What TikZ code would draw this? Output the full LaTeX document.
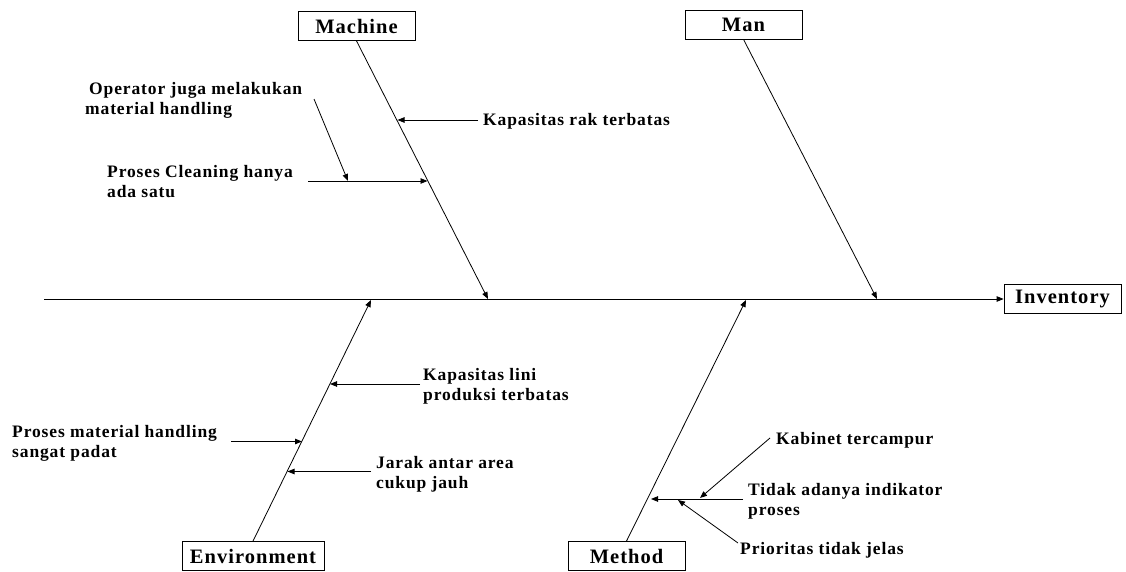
\documentclass[tikz,border=0pt]{standalone}
\usepackage{fontspec}
\setmainfont[LetterSpace=5]{Liberation Serif}
\usetikzlibrary{arrows.meta}

\begin{document}
\begin{tikzpicture}[x=1pt,y=-1pt,
  catbox/.style={draw, line width=0.8pt, minimum width=117pt, minimum height=29pt,
                 inner sep=0pt, font=\fontsize{20.5}{24}\selectfont\bfseries},
  causetext/.style={anchor=north west, inner sep=0pt, align=left,
                    font=\fontsize{17.5}{20}\selectfont\bfseries},
  bone/.style={line width=0.8pt, -{Triangle[length=7pt,width=5.5pt]}}]

\useasboundingbox (0,0) rectangle (1126,572);

% category boxes and effect
\node[catbox] (mach) at (356.5,26) {Machine};
\node[catbox] (man)  at (743.5,24.5) {Man};
\node[catbox] (inv)  at (1062.5,299) {Inventory};
\node[catbox, minimum width=142pt] (env) at (253,556) {Environment};
\node[catbox] (meth) at (626.5,556) {Method};

% spine
\coordinate (tail) at (44,299);
\draw[bone] (tail) -- (inv.west);

% main bones
\coordinate (machT) at (488,299);
\coordinate (manT)  at (877,299);
\coordinate (envT)  at (371,300);
\coordinate (methT) at (746,300);
\draw[bone] (mach.south) -- (machT);
\draw[bone] (man.south) -- (manT);
\draw[bone] (env.north) -- (envT);
\draw[bone] (meth.north) -- (methT);

% cause texts
\node[causetext] (opr)  at (85,82)   {\hspace*{4pt}Operator juga melakukan\\material handling};
\node[causetext] (cln)  at (107,165) {Proses Cleaning hanya\\ada satu};
\node[causetext] (rak)  at (483,113) {Kapasitas rak terbatas};
\node[causetext] (lini) at (423,368) {Kapasitas lini\\produksi terbatas};
\node[causetext] (mh)   at (12,425)  {Proses material handling\\sangat padat};
\node[causetext] (jrk)  at (376,456) {Jarak antar area\\cukup jauh};
\node[causetext] (kab)  at (776,432) {Kabinet tercampur};
\node[causetext] (tdk)  at (748,483) {Tidak adanya indikator\\proses};
\node[causetext] (pri)  at (740,542) {Prioritas tidak jelas};

% machine causes
\coordinate (rakS) at (478,120);   \coordinate (rakT) at (397.5,120);
\coordinate (clnS) at (308,181);   \coordinate (clnT) at (427.5,181);
\coordinate (oprS) at (314,99);    \coordinate (oprT) at (348,181);
\draw[bone] (rakS) -- (rakT);
\draw[bone] (clnS) -- (clnT);
\draw[bone] (oprS) -- (oprT);

% environment causes
\coordinate (liniS) at (420,384);  \coordinate (liniT) at (330,384);
\coordinate (mhS)   at (231,441.5);\coordinate (mhT)   at (302,441.5);
\coordinate (jrkS)  at (371,471.5);\coordinate (jrkT)  at (287.5,471.5);
\draw[bone] (liniS) -- (liniT);
\draw[bone] (mhS) -- (mhT);
\draw[bone] (jrkS) -- (jrkT);

% method causes
\coordinate (tdkS) at (743,499);   \coordinate (tdkT) at (651,499);
\coordinate (kabS) at (770,438);   \coordinate (kabT) at (700,498);
\coordinate (priS) at (738,543);   \coordinate (priT) at (678,500);
\draw[bone] (tdkS) -- (tdkT);
\draw[bone] (kabS) -- (kabT);
\draw[bone] (priS) -- (priT);
\end{tikzpicture}
\end{document}
